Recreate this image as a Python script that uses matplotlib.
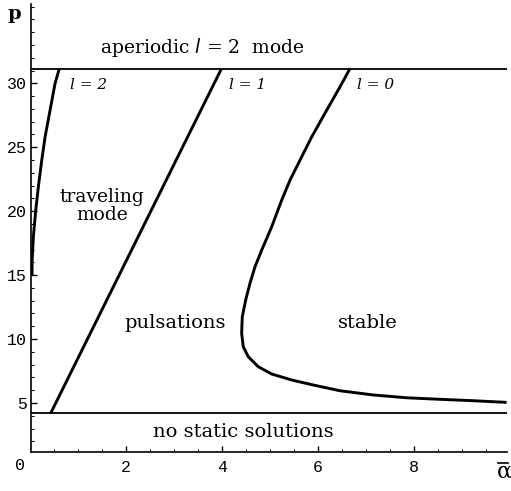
import numpy as np
import matplotlib
matplotlib.use('Agg')
import matplotlib.pyplot as plt
from matplotlib.lines import Line2D
from matplotlib.ticker import MultipleLocator

# courbes de stabilite (alpha barre, p)
alpha_l2 = [0.042, 0.042, 0.069, 0.119, 0.173, 0.244, 0.313, 0.417, 0.521, 0.610]
p_l2 = [15.0, 16.0, 17.99, 20.08, 21.90, 23.98, 25.80, 27.89, 29.98, 31.15]

alpha_l1 = [0.43, 3.99]
p_l1 = [4.2, 31.15]

alpha_l0 = [6.667, 6.458, 6.181, 5.869, 5.625, 5.417, 5.244, 5.035, 4.977, 4.827,
            4.688, 4.583, 4.494, 4.423, 4.410, 4.444, 4.548, 4.756, 5.035, 5.452,
            5.902, 6.458, 7.152, 7.848, 8.542, 9.235, 9.931]
p_l0 = [31.15, 29.71, 27.89, 25.80, 23.98, 22.42, 20.86, 18.77, 18.26, 16.95,
        15.65, 14.35, 13.05, 11.74, 10.45, 9.40, 8.62, 7.84, 7.27, 6.80,
        6.41, 5.96, 5.63, 5.41, 5.29, 5.18, 5.05]

p_haut = 31.15   # limite mode aperiodique
p_bas = 4.2      # pas de solution statique

xticks = [2, 4, 6, 8]
yticks = [5, 10, 15, 20, 25, 30]

W, H = 511, 491
fig = plt.figure(figsize=(W / 100, H / 100), dpi=100)
ax = fig.add_axes([31 / W, 1 - 452 / H, (507 - 31) / W, (452 - 4) / H])

ax.set_xlim(0.02, 9.94)
ax.set_ylim(1.17, 36.2)

for xs, ys in [(alpha_l2, p_l2), (alpha_l1, p_l1), (alpha_l0, p_l0)]:
    ax.plot(xs, ys, color='black', lw=2.1, solid_capstyle='butt', solid_joinstyle='round')
ax.axhline(p_haut, color='black', lw=1.3)
ax.axhline(p_bas, color='black', lw=1.3)

for s in ['top', 'right']:
    ax.spines[s].set_visible(False)
for s in ['left', 'bottom']:
    ax.spines[s].set_linewidth(1.2)

ax.set_xticks(xticks)
ax.set_yticks(yticks)
ax.xaxis.set_minor_locator(MultipleLocator(0.5))
ax.yaxis.set_minor_locator(MultipleLocator(1))
ax.tick_params(which='major', direction='in', length=4, width=1)
ax.tick_params(which='minor', direction='in', length=2, width=0.8)
ax.tick_params(axis='y', pad=3)
ax.tick_params(axis='x', pad=6)
for lab in ax.get_xticklabels() + ax.get_yticklabels():
    lab.set_family('Liberation Mono')
    lab.set_fontsize(12)

serif = 'DejaVu Serif'
ax.text(3.6, 32.8, r'aperiodic $\mathit{l}$ = 2  mode', family=serif, fontsize=13.5,
        ha='center', va='center')
ax.text(1.21, 29.9, 'l = 2', family=serif, style='italic', fontsize=11, ha='center', va='center')
ax.text(4.54, 29.9, 'l = 1', family=serif, style='italic', fontsize=11, ha='center', va='center')
ax.text(7.21, 29.9, 'l = 0', family=serif, style='italic', fontsize=11, ha='center', va='center')
ax.text(1.5, 20.4, 'traveling\nmode', family=serif, fontsize=13.5, ha='center', va='center',
        linespacing=1.05)
ax.text(3.02, 11.25, 'pulsations', family=serif, fontsize=14, ha='center', va='center')
ax.text(7.04, 11.25, 'stable', family=serif, fontsize=14, ha='center', va='center')
ax.text(4.44, 2.73, 'no static solutions', family=serif, fontsize=14, ha='center', va='center')

fig.text(14 / W, 1 - 14 / H, 'p', family=serif, fontsize=14, weight='bold', ha='center', va='center')
fig.text(20 / W, 1 - 465 / H, '0', family='Liberation Mono', fontsize=12, ha='center', va='center')
# alpha barre : lettre + trait au-dessus
fig.text(504 / W, 1 - 478 / H, 'α', family=serif, fontsize=16, ha='center', va='baseline')
fig.add_artist(Line2D([498 / W, 508 / W], [1 - 463 / H, 1 - 463 / H],
                      transform=fig.transFigure, color='black', lw=1.2))

fig.savefig('out.png', dpi=100)
